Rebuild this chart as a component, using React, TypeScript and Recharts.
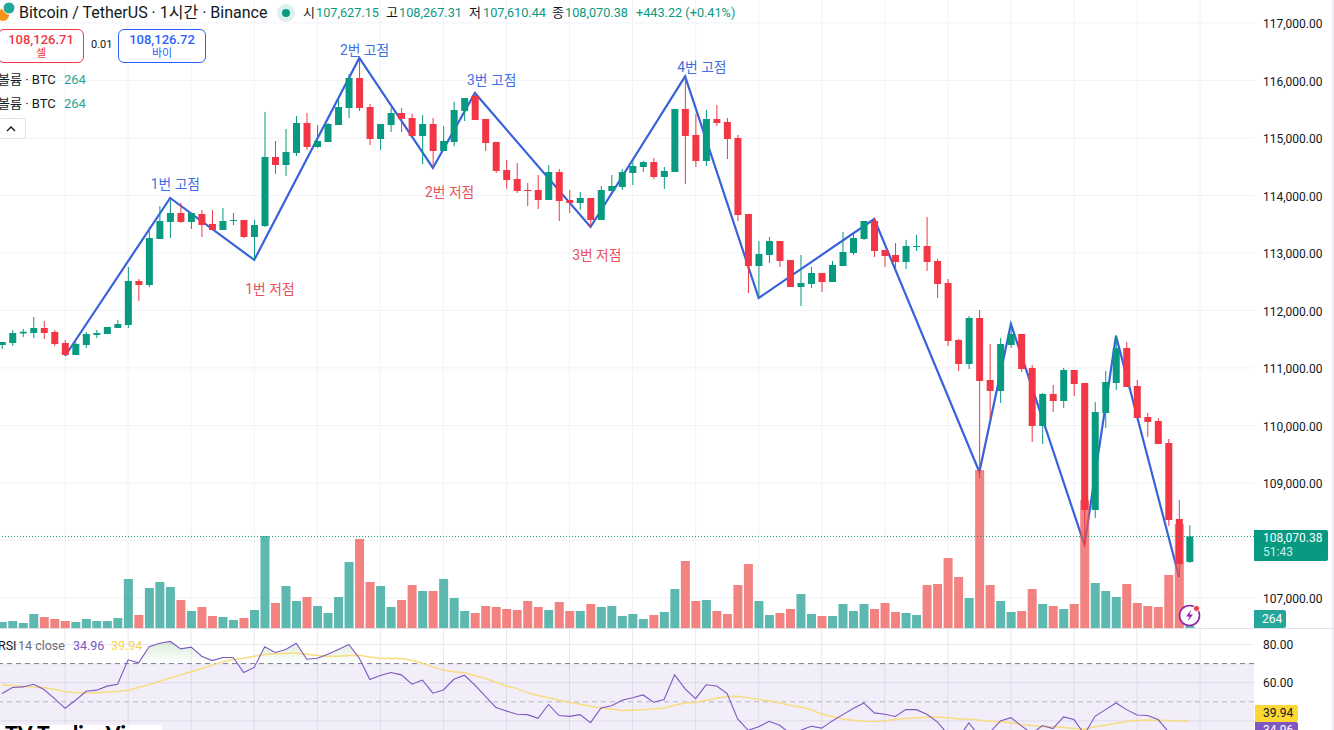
import React from "react";
import {
  Area,
  Bar,
  CartesianGrid,
  ComposedChart,
  Line,
  ReferenceArea,
  ReferenceDot,
  ReferenceLine,
  XAxis,
  YAxis,
} from "recharts";

const opens = [
  111400, 111434, 111600, 111608, 111695, 111626, 111434, 111226, 111400, 111574, 111591, 111695, 111747, 112513, 112443, 113243, 113539, 113695, 113539,
  113678, 113504, 113400, 113556, 113573, 113278, 113469, 114669, 114530, 114739, 115260, 114843, 114930, 115225, 115521, 116043, 115538, 114982, 115225,
  115434, 115347, 115034, 115243, 114773, 114930, 115469, 115730, 115330, 114930, 114443, 114286, 114095, 114095, 113921, 114408, 113921, 113869, 113956,
  113573, 114078, 114147, 114391, 114495, 114582, 114321, 114408, 115504, 115052, 114599, 115330, 115278, 114999, 113678, 112773, 112965, 113208, 112878,
  112408, 112460, 112652, 112495, 112773, 113000, 113243, 113556, 113052, 112965, 112843, 113104, 113121, 112860, 112478, 111487, 111069, 111869, 110791,
  110600, 111400, 111591, 111000, 109991, 110548, 110426, 110965, 110739, 108530, 110217, 110739, 111348, 110687, 110148, 110078, 109695, 108374, 107627.15,
];
const highs = [
  111452, 111661, 111678, 111887, 111817, 111661, 111487, 111452, 111626, 111661, 111713, 111834, 112756, 112547, 113452, 113817, 113921, 113869, 113695,
  113747, 113747, 113782, 113695, 113573, 113573, 115452, 114947, 115156, 115382, 115434, 115225, 115260, 115660, 116112, 116356, 115591, 115243, 115521,
  115521, 115417, 115399, 115347, 115208, 115625, 115695, 115782, 115330, 114930, 114617, 114565, 114217, 114356, 114530, 114460, 114095, 114060, 113956,
  114165, 114356, 114460, 114617, 114599, 114652, 114495, 115504, 116060, 115417, 115486, 115573, 115347, 115052, 113678, 113208, 113278, 113208, 112878,
  112965, 112756, 112652, 112860, 113365, 113330, 113556, 113608, 113052, 113173, 113226, 113313, 113626, 112895, 112547, 111504, 111904, 112008, 111417,
  111521, 111782, 111591, 111052, 110565, 110704, 111000, 110965, 110739, 110408, 110948, 111574, 111452, 110791, 110217, 110130, 109765, 108704, 108267.31,
];
const lows = [
  111330, 111382, 111539, 111521, 111504, 111382, 111226, 111226, 111348, 111521, 111591, 111695, 111695, 112165, 112408, 113243, 113260, 113521, 113417,
  113278, 113400, 113400, 113486, 113260, 112878, 113452, 114373, 114339, 114686, 114791, 114826, 114930, 115225, 115347, 115469, 114878, 114791, 115104,
  115104, 115034, 114547, 114495, 114773, 114860, 115295, 115312, 114773, 114391, 114113, 114043, 113817, 113765, 113921, 113556, 113695, 113747, 113452,
  113573, 114078, 114095, 114182, 114408, 114286, 114113, 114408, 114199, 114495, 114512, 115208, 114634, 113556, 112304, 112234, 112826, 112756, 112408,
  112078, 112391, 112321, 112495, 112773, 112965, 113226, 112930, 112756, 112704, 112721, 113034, 112687, 112217, 111382, 110948, 110982, 109087, 110130,
  110391, 111348, 110930, 109713, 109678, 110235, 110304, 110513, 107887, 108391, 109956, 110617, 110669, 110130, 109800, 109678, 108252, 107365, 107610.44,
];
const closes = [
  111452, 111608, 111630, 111695, 111608, 111417, 111226, 111417, 111591, 111608, 111713, 111765, 112513, 112443, 113260, 113556, 113695, 113539, 113695,
  113486, 113400, 113556, 113573, 113278, 113486, 114669, 114530, 114756, 115260, 114843, 114947, 115243, 115538, 116043, 115521, 114982, 115243, 115434,
  115330, 115034, 115243, 114773, 114947, 115486, 115695, 115312, 114912, 114426, 114269, 114078, 114078, 113921, 114408, 113904, 113869, 113956, 113573,
  114095, 114165, 114408, 114512, 114582, 114321, 114426, 115504, 115034, 114599, 115330, 115260, 114982, 113660, 112773, 112982, 113208, 112860, 112408,
  112478, 112652, 112495, 112791, 113017, 113260, 113556, 113034, 112947, 112843, 113121, 113121, 112843, 112460, 111469, 111069, 111869, 110774, 110600,
  111417, 111591, 110982, 109991, 110548, 110426, 110965, 110721, 108530, 110235, 110756, 111348, 110669, 110130, 110061, 109678, 108356, 107591, 108070.38,
];
const volumes = [
  720, 840, 600, 1680, 1320, 1080, 840, 720, 1080, 840, 840, 1200, 5880, 1560, 4800, 5520, 4920, 3360, 2040, 2520, 1440, 1320, 960, 1200, 2160, 11040, 3000,
  5040, 3240, 3720, 2640, 1800, 3720, 7920, 10680, 5520, 5040, 2520, 3360, 5160, 4440, 4440, 5880, 3600, 2040, 1800, 2640, 2520, 2280, 2160, 3240, 2520,
  2160, 3120, 2040, 2040, 2880, 2520, 2640, 1440, 1680, 1080, 1560, 1920, 4680, 8040, 3240, 3360, 2040, 1680, 5160, 7680, 3240, 1560, 1800, 2280, 4080,
  1680, 1440, 1440, 2880, 2040, 2880, 2280, 3000, 1920, 1800, 1560, 5160, 5280, 8400, 6120, 3600, 18960, 5160, 3240, 1920, 2040, 4680, 2880, 2640, 2280,
  2880, 15360, 5400, 4440, 3720, 5280, 3000, 2640, 2520, 6360, 12480, 264,
];
const rsiValues = [
  54.3, 57.5, 57.8, 59.2, 56.4, 51.7, 46.6, 50.8, 55.5, 56.1, 58.2, 59.2, 72, 70.4, 78.8, 80.7, 81.6, 77.7, 78.6, 73.9, 71.6, 73.2, 73.2, 65.3, 68, 78.8,
  75.8, 77.4, 80.7, 72.3, 72.8, 74.9, 77.4, 80, 72.8, 61.7, 63.8, 65.3, 64.1, 59.2, 61.3, 54.5, 56.2, 61.8, 63.9, 58.7, 52.9, 47, 45.2, 43.5, 43.3, 41.4,
  48.6, 42.8, 42.4, 43.3, 39.1, 46.8, 47.9, 50.8, 52.1, 53.6, 49.8, 51.2, 64.1, 56.8, 51.7, 58.9, 58.3, 54.3, 41, 35.1, 36.9, 39.8, 37.7, 33.4, 35.1, 37.2,
  36.2, 40, 43.3, 46.5, 49.4, 44.2, 43.5, 42.3, 45.9, 45.9, 43.5, 39.5, 33, 31, 39, 32, 34, 40, 41.7, 37.4, 33.4, 37.6, 36, 42.1, 40.7, 33, 42.4, 45.9, 49.4,
  45.9, 43.1, 42.8, 40.7, 34.3, 31, 34.96,
];
const rsiAverage = [
  58.9, 58.5, 58, 57.8, 57.5, 56.4, 55.4, 54.7, 54.5, 54.8, 55.2, 55.4, 56.1, 57.5, 59, 60.8, 62.5, 64.1, 65.7, 67.4, 69.2, 70.9, 72.1, 72.8, 73.9, 74.8,
  75.1, 75.3, 75.5, 74.9, 74.2, 73.9, 73.9, 74.2, 74.4, 73.5, 72.8, 72.7, 72.7, 71.8, 70.2, 68.3, 66.6, 65.7, 65.2, 63.8, 62.2, 60.3, 58.3, 56.9, 54.7, 53.3,
  52.1, 50.8, 49.8, 48.7, 47.7, 46.8, 46.1, 45.4, 45.6, 45.9, 46.3, 46.8, 48.2, 49.4, 49.8, 50.8, 51.9, 52.8, 52.9, 52.1, 51.2, 50.5, 49.4, 48.2, 47.3, 45.9,
  43.5, 42.3, 41, 40.3, 39.8, 39.7, 40, 40.9, 41.2, 41.6, 41.9, 42.1, 41.7, 41, 41, 40.3, 39.8, 39.5, 39, 38.1, 37.6, 37, 36.9, 36.5, 36, 35.6, 36.9, 37.7,
  38.6, 39.7, 40.2, 40.5, 40.3, 40.2, 40, 39.94,
];

// zigzag drawn by the chart's author: candle index and price of each turn
const zigIndex = [6, 16, 24, 34, 41, 45, 56, 65, 72, 83, 93, 96, 103, 106, 112];
const zigPrice = [111208, 113956, 112878, 116391, 114478, 115782, 113452, 116072, 112217, 113591, 109191, 111765, 107922, 111556, 107365];

const noteText = ["1번 고점", "2번 고점", "3번 고점", "4번 고점", "1번 저점", "2번 저점", "3번 저점"];
const noteIndex = [16.5, 34.5, 46.6, 66.6, 25.5, 42.6, 56.6];
const notePrice = [114199, 116530, 116008, 116234, 112374, 114060, 112965];
const noteColor = ["#3f6fe3", "#3f6fe3", "#3f6fe3", "#3f6fe3", "#e9505f", "#e9505f", "#e9505f"];

// 108,000 sits under the last-price tag, so it has a grid line but no label
const priceTicks = [107000, 109000, 110000, 111000, 112000, 113000, 114000, 115000, 116000, 117000];
const priceGrid = [107000, 108000, 109000, 110000, 111000, 112000, 113000, 114000, 115000, 116000, 117000];
const rsiTicks = [80, 60];
const rsiGrid = [80, 60, 40];
const timeTicks = [0, 6, 12, 18, 24, 30, 36, 42, 48, 54, 60, 66, 72, 78, 84, 90, 96, 102, 108, 114];

const lastPrice = 108070.38;
const GREEN = "#089981";
const RED = "#f23645";
const FONT = 'Roboto, "Noto Sans CJK KR", sans-serif';
const xDomain: [number, number] = [-0.19, 119.13];

const rows = opens.map((open, i) => {
  const z = zigIndex.indexOf(i);
  return {
    i,
    open,
    high: highs[i],
    low: lows[i],
    close: closes[i],
    range: [lows[i], highs[i]],
    volume: volumes[i],
    zig: z >= 0 ? zigPrice[z] : null,
    rsi: rsiValues[i],
    avg: rsiAverage[i],
    over: [70, Math.max(70, rsiValues[i])],
  };
});

function Candle(props: any) {
  const { x, y, width, height, payload } = props;
  const { open, high, low, close } = payload;
  const k = height / (high - low);
  const top = y + (high - Math.max(open, close)) * k;
  const bodyH = Math.max(1, Math.abs(open - close) * k);
  const color = close >= open ? GREEN : RED;
  return (
    <g>
      <rect x={x + width / 2 - 0.5} y={y} width={1} height={height} fill={color} />
      <rect x={x} y={top} width={width} height={bodyH} fill={color} />
    </g>
  );
}

function VolumeBar(props: any) {
  const { x, y, width, height, payload } = props;
  const up = payload.close >= payload.open;
  return <rect x={x} y={y} width={width} height={height} fill={up ? "#1f9d90" : "#ef5350"} fillOpacity={0.72} />;
}

function Txt({ x, y, size = 13, color = "#131722", weight = 400, children }: any) {
  return (
    <div style={{ position: "absolute", left: x, top: y, fontSize: size, color, fontWeight: weight, fontFamily: FONT, lineHeight: "16px", whiteSpace: "nowrap" }}>
      {children}
    </div>
  );
}

function Header() {
  return (
    <>
      <svg width={20} height={24} style={{ position: "absolute", left: 0, top: 2 }}>
        <circle cx={3} cy={13} r={6} fill="#f7931a" />
        <circle cx={9} cy={6} r={6} fill="#26a69a" stroke="#fff" />
      </svg>
      <Txt x={19} y={5} size={16}>Bitcoin / TetherUS · 1시간 · Binance</Txt>
      <svg width={20} height={20} style={{ position: "absolute", left: 276, top: 3 }}>
        <circle cx={10} cy={10} r={9} fill="#dcf1ed" />
        <circle cx={10} cy={10} r={4} fill={GREEN} />
      </svg>
      <Txt x={303} y={5}>시</Txt>
      <Txt x={316} y={5} size={12.7} color={GREEN}>107,627.15</Txt>
      <Txt x={386} y={5}>고</Txt>
      <Txt x={399} y={5} size={12.7} color={GREEN}>108,267.31</Txt>
      <Txt x={469} y={5}>저</Txt>
      <Txt x={483} y={5} size={12.7} color={GREEN}>107,610.44</Txt>
      <Txt x={552} y={5}>종</Txt>
      <Txt x={565} y={5} size={12.7} color={GREEN}>108,070.38</Txt>
      <Txt x={636} y={5} size={12.7} color={GREEN}>+443.22 (+0.41%)</Txt>

      <div style={{ position: "absolute", left: -2, top: 29, width: 84, height: 32, border: `1px solid ${RED}`, borderRadius: 6, background: "#fff", textAlign: "center", fontFamily: FONT, color: RED }}>
        <div style={{ fontSize: 13, lineHeight: "16px", marginTop: 2, fontWeight: 500 }}>108,126.71</div>
        <div style={{ fontSize: 11, lineHeight: "12px" }}>셀</div>
      </div>
      <Txt x={91} y={37} size={11}>0.01</Txt>
      <div style={{ position: "absolute", left: 118, top: 29, width: 86, height: 32, border: "1px solid #2962ff", borderRadius: 6, background: "#fff", textAlign: "center", fontFamily: FONT, color: "#2962ff" }}>
        <div style={{ fontSize: 13, lineHeight: "16px", marginTop: 2, fontWeight: 500 }}>108,126.72</div>
        <div style={{ fontSize: 11, lineHeight: "12px" }}>바이</div>
      </div>

      <Txt x={-2} y={72}>볼륨 · BTC</Txt>
      <Txt x={64} y={72} color="#26a69a">264</Txt>
      <Txt x={-2} y={96}>볼륨 · BTC</Txt>
      <Txt x={64} y={96} color="#26a69a">264</Txt>
      <div style={{ position: "absolute", left: -2, top: 118, width: 26, height: 19, border: "1px solid #e0e3eb", borderRadius: 3, background: "#fff", fontFamily: FONT }}>
        <svg width={26} height={19}>
          <path d="M8 12 L12 8 L16 12" fill="none" stroke="#131722" strokeWidth={1.4} />
        </svg>
      </div>
    </>
  );
}

function RightSide() {
  return (
    <>
      <div style={{ position: "absolute", left: 1254, top: 530, width: 74, height: 31, background: GREEN, borderRadius: "0 2px 2px 0", color: "#fff", fontFamily: FONT, fontSize: 12, lineHeight: "14px" }}>
        <div style={{ marginLeft: 9, marginTop: 1 }}>108,070.38</div>
        <div style={{ marginLeft: 9, color: "#c9efe7" }}>51:43</div>
      </div>
      <div style={{ position: "absolute", left: 1254, top: 610, width: 32, height: 18, background: "#26a69a", borderRadius: "0 2px 2px 0", color: "#fff", fontFamily: FONT, fontSize: 12, lineHeight: "18px", textIndent: 8 }}>264</div>
      <div style={{ position: "absolute", left: 1255, top: 705, width: 43, height: 17, background: "#fdd835", borderRadius: "0 2px 2px 0", color: "#131722", fontFamily: FONT, fontSize: 12, lineHeight: "17px", textIndent: 8 }}>39.94</div>
      <div style={{ position: "absolute", left: 1255, top: 722, width: 43, height: 17, background: "#7e57c2", borderRadius: "0 2px 2px 0", color: "#fff", fontFamily: FONT, fontSize: 12, lineHeight: "17px", textIndent: 8 }}>34.96</div>
      <svg width={26} height={26} style={{ position: "absolute", left: 1177, top: 603 }}>
        <circle cx={12.5} cy={12.5} r={10} fill="#fff" stroke="#8e24aa" strokeWidth={1.6} />
        <path d="M14.5 6.5 L9 13.5 H12.5 L10.5 18.5 L16 11.5 H12.5 Z" fill="#8e24aa" />
        <circle cx={19.5} cy={5.5} r={3} fill={RED} stroke="#fff" />
      </svg>
      <div style={{ position: "absolute", left: 1332, top: 0, width: 2, height: 730, background: "#eceef2" }} />
      <div style={{ position: "absolute", left: 0, top: 628, width: 1334, height: 1, background: "#e0e3eb" }} />
    </>
  );
}

function RsiLegend() {
  return (
    <>
      <Txt x={-2} y={638} size={12.5}>RSI</Txt>
      <Txt x={18} y={638} size={12.5} color="#6a6d78">14 close</Txt>
      <Txt x={73} y={638} size={12.5} color="#7e57c2">34.96</Txt>
      <Txt x={111} y={638} size={12.5} color="#f7d548">39.94</Txt>
      <div style={{ position: "absolute", left: 0, top: 725, width: 162, height: 5, background: "#fff", overflow: "hidden" }}>
        <div style={{ position: "absolute", left: 5, top: -4, fontFamily: "Lato, sans-serif", fontWeight: 900, fontSize: 21, lineHeight: "24px", color: "#000", whiteSpace: "nowrap" }}>
          TV
        </div>
        <div style={{ position: "absolute", left: 37, top: -4, fontFamily: "Lato, sans-serif", fontWeight: 900, fontSize: 21, lineHeight: "24px", color: "#000", whiteSpace: "nowrap" }}>
          TradingView
        </div>
      </div>
    </>
  );
}

export default function App() {
  return (
    <div style={{ position: "fixed", left: 0, top: 0, width: 1334, height: 730, overflow: "hidden", background: "#fff" }}>
      <div style={{ position: "absolute", left: 0, top: 0 }}>
        <ComposedChart width={1334} height={628} data={rows} margin={{ top: 0, right: 0, bottom: 0, left: 0 }}>
          <CartesianGrid stroke="#f2f3f6" horizontalValues={priceGrid} verticalValues={timeTicks} />
          <XAxis dataKey="i" type="number" domain={xDomain} allowDataOverflow ticks={timeTicks} hide />
          <XAxis xAxisId="vol" dataKey="i" type="number" domain={xDomain} allowDataOverflow hide />
          <YAxis
            orientation="right"
            width={80}
            domain={[106478, 117399]}
            allowDataOverflow
            ticks={priceTicks}
            interval={0}
            axisLine={false}
            tickLine={false}
            tickMargin={3}
            tick={{ fontSize: 12, fill: "#131722", fontFamily: FONT, dy: 1 }}
            tickFormatter={(v: number) => v.toLocaleString("en-US", { minimumFractionDigits: 2 })}
          />
          <YAxis yAxisId="vol" domain={[0, 75360]} allowDataOverflow hide />
          <ReferenceLine y={lastPrice} stroke={GREEN} strokeDasharray="1 2" />
          <Line dataKey="zig" connectNulls dot={false} stroke="#3862dc" strokeWidth={2.2} isAnimationActive={false} zIndex={100} />
          <Bar dataKey="volume" xAxisId="vol" yAxisId="vol" barSize={9} shape={VolumeBar} isAnimationActive={false} zIndex={200} />
          <Bar dataKey="range" barSize={7} shape={Candle} isAnimationActive={false} zIndex={300} />
          {noteText.map((t, n) => (
            <ReferenceDot
              key={t}
              x={noteIndex[n]}
              y={notePrice[n]}
              r={0}
              stroke="none"
              label={{ value: t, position: "center", fill: noteColor[n], fontSize: 13.8, fontFamily: FONT }}
            />
          ))}
        </ComposedChart>
      </div>
      <div style={{ position: "absolute", left: 0, top: 629 }}>
        <ComposedChart width={1334} height={101} data={rows} margin={{ top: 0, right: 0, bottom: 0, left: 0 }}>
          <defs>
            <linearGradient id="overFill" x1="0" y1="0" x2="0" y2="1">
              <stop offset="0%" stopColor="#4caf50" stopOpacity={0.35} />
              <stop offset="100%" stopColor="#4caf50" stopOpacity={0} />
            </linearGradient>
          </defs>
          <XAxis dataKey="i" type="number" domain={xDomain} allowDataOverflow hide />
          <YAxis
            orientation="right"
            width={80}
            domain={[35.24, 88.12]}
            allowDataOverflow
            ticks={rsiTicks}
            interval={0}
            axisLine={false}
            tickLine={false}
            tickMargin={3}
            tick={{ fontSize: 12, fill: "#131722", fontFamily: FONT }}
            tickFormatter={(v: number) => v.toFixed(2)}
          />
          <ReferenceArea y1={30} y2={70} fill="#7e57c2" fillOpacity={0.1} stroke="none" ifOverflow="visible" />
          <CartesianGrid stroke="#e9e9ef" horizontalValues={rsiGrid} verticalValues={timeTicks} />
          <ReferenceLine y={70} stroke="#787b86" strokeDasharray="5 4" />
          <ReferenceLine y={50} stroke="#b2b5be" strokeDasharray="5 4" />
          <Area dataKey="over" stroke="none" fill="url(#overFill)" isAnimationActive={false} />
          <Line dataKey="avg" dot={false} stroke="#f8dc80" strokeWidth={1.5} isAnimationActive={false} />
          <Line dataKey="rsi" dot={false} stroke="#7e57c2" strokeWidth={1.1} isAnimationActive={false} />
        </ComposedChart>
      </div>
      <Header />
      <RightSide />
      <RsiLegend />
    </div>
  );
}
